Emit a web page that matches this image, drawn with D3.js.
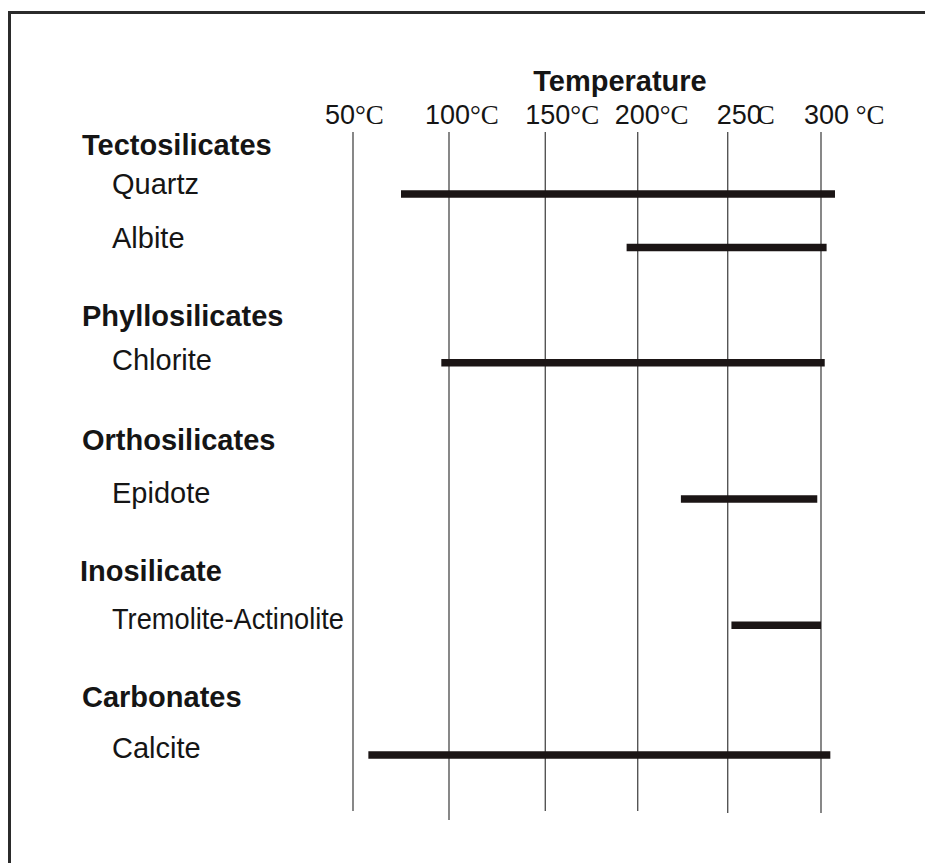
<!DOCTYPE html>
<html>
<head>
<meta charset="utf-8">
<script src="https://cdn.jsdelivr.net/npm/d3@7"></script>
<style>
  body { margin: 0; background: #fff; }
  svg { display: block; }
  text { fill: #151515; font-family: "Liberation Sans", Arial, sans-serif; }
</style>
</head>
<body>
<svg id="chart" width="925" height="863"></svg>
<script>
// ---- data ----
let ticks = [50, 100, 150, 200, 250, 300]
let tickUnits = ["°C", "°C", "°C", "°C", "C", " °C"]

let groups = ["Tectosilicates", "Phyllosilicates", "Orthosilicates", "Inosilicate", "Carbonates"]
let minerals = ["Quartz", "Albite", "Chlorite", "Epidote", "Tremolite-Actinolite", "Calcite"]
let mineralGroup = ["Tectosilicates", "Tectosilicates", "Phyllosilicates", "Orthosilicates", "Inosilicate", "Carbonates"]
let tempFrom = [75, 194, 96, 224, 252, 58]
let tempTo = [307.5, 303, 302, 298, 300, 305]

// ---- layout (hand drawn figure, gridlines not evenly spaced) ----
let gridPx = [353, 449, 545.3, 637.7, 727.7, 821]
let tickNudge = [-28, -24, -20, -23, -11, -17]
let gridTop = 132
let gridBottom = [811, 820, 811, 811, 813, 813]
let groupBase = [155, 326, 450, 581, 707]
let mineralBase = [194, 248, 370, 503, 629, 758]
let barPx = [194, 247.4, 362.8, 499, 625.3, 755]

function make_scales() {
  return {
    x: d3.scaleLinear().domain(ticks).range(gridPx),
    yGroup: d3.scaleOrdinal().domain(groups).range(groupBase),
    yLabel: d3.scaleOrdinal().domain(minerals).range(mineralBase),
    yBar: d3.scaleOrdinal().domain(minerals).range(barPx)
  }
}

function draw_frame(svg) {
  svg.append("path")
    .attr("d", "M9.5,863V12.5H925")
    .attr("fill", "none")
    .attr("stroke", "#2b2b2b")
    .attr("stroke-width", 3)
}

function draw_axis(svg, scales) {
  svg.append("text")
    .attr("x", 620)
    .attr("y", 91)
    .attr("text-anchor", "middle")
    .style("font-size", "29px")
    .style("font-weight", "bold")
    .text("Temperature")

  svg.append("g").attr("id", "grid")
    .selectAll("line")
    .data(ticks).enter()
    .append("line")
    .attr("x1", d => scales.x(d))
    .attr("x2", d => scales.x(d))
    .attr("y1", gridTop)
    .attr("y2", (d, i) => gridBottom[i])
    .attr("stroke", "#555")
    .attr("stroke-width", 1.4)

  let lab = svg.append("g").attr("id", "tick_labels")
    .selectAll("text")
    .data(ticks).enter()
    .append("text")
    .attr("x", (d, i) => scales.x(d) + tickNudge[i])
    .attr("y", 123.5)
    .style("font-size", "27px")

  lab.append("tspan").text(d => d)
  lab.append("tspan")
    .attr("dx", (d, i) => tickUnits[i] == "C" ? -5 : 0)
    .style("font-family", '"Liberation Serif", "Times New Roman", serif')
    .text((d, i) => tickUnits[i])
}

function draw_labels(svg, scales) {
  svg.append("g").attr("id", "groups")
    .selectAll("text")
    .data(groups).enter()
    .append("text")
    .attr("x", d => d == "Inosilicate" ? 80 : 82)
    .attr("y", d => scales.yGroup(d))
    .style("font-size", "29px")
    .style("font-weight", "bold")
    .text(d => d)

  let maxRight = scales.x(50) - 7
  svg.append("g").attr("id", "minerals")
    .selectAll("text")
    .data(minerals).enter()
    .append("text")
    .attr("x", 112)
    .attr("y", d => scales.yLabel(d))
    .style("font-size", "29px")
    .text(d => d)
    .each(function() {
      // squeeze labels that would run into the first gridline
      let w = this.getComputedTextLength()
      if (112 + w > maxRight) {
        d3.select(this)
          .attr("textLength", maxRight - 112 - 2)
          .attr("lengthAdjust", "spacingAndGlyphs")
      }
    })
}

function draw_bars(svg, scales) {
  let rows = minerals.map((m, i) => ({name: m, group: mineralGroup[i], from: tempFrom[i], to: tempTo[i]}))
  svg.append("g").attr("id", "bars")
    .selectAll("line")
    .data(rows).enter()
    .append("line")
    .attr("x1", d => scales.x(d.from))
    .attr("x2", d => scales.x(d.to))
    .attr("y1", d => scales.yBar(d.name))
    .attr("y2", d => scales.yBar(d.name))
    .attr("stroke", "#1b1515")
    .attr("stroke-width", 7.5)
}

let svg = d3.select("#chart")
let scales = make_scales()
draw_frame(svg)
draw_axis(svg, scales)
draw_labels(svg, scales)
draw_bars(svg, scales)
</script>
</body>
</html>
